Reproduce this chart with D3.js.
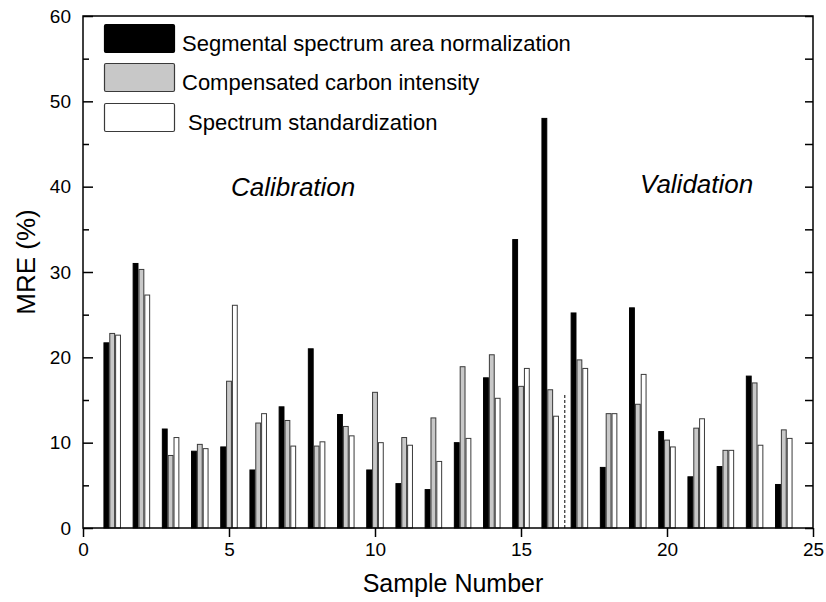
<!DOCTYPE html>
<html>
<head>
<meta charset="utf-8">
<script src="https://cdn.jsdelivr.net/npm/d3@7"></script>
<style>
  html, body { margin: 0; padding: 0; background: #fff; }
  svg { display: block; font-family: "Liberation Sans", Arial, sans-serif; }
</style>
</head>
<body>
<svg id="chart" width="826" height="602"></svg>
<script>
// ---- data ----
const samples = d3.range(1, 25);
const seriesNames = [
  "Segmental spectrum area normalization",
  "Compensated carbon intensity",
  "Spectrum standardization"
];
const segmentalArea = [21.7, 31.0, 11.6, 9.0, 9.5, 6.8, 14.2, 21.0, 13.3, 6.8, 5.2, 4.5,
                       10.0, 17.6, 33.8, 48.0, 25.2, 7.1, 25.8, 11.3, 6.0, 7.2, 17.8, 5.1];
const compensatedCarbon = [22.8, 30.3, 8.5, 9.8, 17.2, 12.3, 12.6, 9.6, 11.9, 15.9, 10.6, 12.9,
                           18.9, 20.3, 16.6, 16.2, 19.7, 13.4, 14.5, 10.3, 11.7, 9.1, 17.0, 11.5];
const spectrumStd = [22.6, 27.3, 10.6, 9.3, 26.1, 13.4, 9.6, 10.1, 10.8, 10.0, 9.7, 7.8,
                     10.5, 15.2, 18.7, 13.1, 18.7, 13.4, 18.0, 9.5, 12.8, 9.1, 9.7, 10.5];
const xTicks = [0, 5, 10, 15, 20, 25];
const yTicks = [0, 10, 20, 30, 40, 50, 60];
const yMinorTicks = [5, 15, 25, 35, 45, 55];
const dividerX = 16.5;
const dividerTop = 15.7;

// ---- layout ----
const svg = d3.select("#chart");
const L = 83, R = 813, T = 16, B = 528;
const x = d3.scaleLinear().domain([0, 25]).range([L, R]);
const y = d3.scaleLinear().domain([0, 60]).range([B, T]);
const barW = 0.2;
const fills = ["#000000", "#c8c8c8", "#ffffff"];
const strokes = ["#000000", "#3a3a3a", "#3a3a3a"];
const seriesData = [segmentalArea, compensatedCarbon, spectrumStd];
const offsets = [-0.2, 0, 0.2];

// bars
seriesData.forEach((vals, s) => {
  svg.append("g").selectAll("rect")
    .data(samples.map((n, i) => ({n, v: vals[i]})))
    .join("rect")
    .attr("x", d => x(d.n + offsets[s] - barW / 2) + 0.5)
    .attr("width", d => x(barW) - x(0) - 1)
    .attr("y", d => y(d.v))
    .attr("height", d => y(0) - y(d.v))
    .attr("fill", fills[s])
    .attr("stroke", strokes[s])
    .attr("stroke-width", 1);
});

// divider dashed line
svg.append("line")
  .attr("x1", x(dividerX)).attr("x2", x(dividerX))
  .attr("y1", y(0)).attr("y2", y(dividerTop))
  .attr("stroke", "#000").attr("stroke-width", 1)
  .attr("stroke-dasharray", "3,2");

// frame
svg.append("rect")
  .attr("x", L).attr("y", T).attr("width", R - L).attr("height", B - T)
  .attr("fill", "none").attr("stroke", "#000").attr("stroke-width", 1.5);

// bottom axis (outward ticks)
const xAxis = d3.axisBottom(x).tickValues(xTicks).tickSize(9).tickPadding(6).tickFormat(d3.format("d"));
const gx = svg.append("g").attr("transform", `translate(0,${B})`).call(xAxis);
gx.select(".domain").remove();
gx.selectAll(".tick line").attr("stroke-width", 1.5);
gx.selectAll("text").attr("font-size", 19).attr("fill", "#000")
  .attr("font-family", "Liberation Sans, Arial, sans-serif");

// left axis (inward ticks)
const yAxis = d3.axisLeft(y).tickValues(yTicks).tickSize(-10).tickPadding(12).tickFormat(d3.format("d"));
const gy = svg.append("g").attr("transform", `translate(${L},0)`).call(yAxis);
gy.select(".domain").remove();
gy.selectAll(".tick line").attr("stroke-width", 1.5);
gy.selectAll("text").attr("font-size", 19).attr("fill", "#000")
  .attr("font-family", "Liberation Sans, Arial, sans-serif");
const gyMinor = svg.append("g").attr("transform", `translate(${L},0)`)
  .call(d3.axisLeft(y).tickValues(yMinorTicks).tickSize(-6).tickFormat(""));
gyMinor.select(".domain").remove();
gyMinor.selectAll(".tick line").attr("stroke-width", 1.5);

// right axis (inward ticks, no labels)
const gr = svg.append("g").attr("transform", `translate(${R},0)`)
  .call(d3.axisRight(y).tickValues(yTicks.concat(yMinorTicks)).tickSize(-8).tickFormat(""));
gr.select(".domain").remove();
gr.selectAll(".tick line").attr("stroke-width", 1.5);

// axis titles
svg.append("text")
  .attr("x", (L + R) / 2 + 5).attr("y", 592)
  .attr("text-anchor", "middle").attr("font-size", 25).text("Sample Number");
svg.append("text")
  .attr("transform", `translate(35,${262}) rotate(-90)`)
  .attr("text-anchor", "middle").attr("font-size", 26).text("MRE (%)");

// region labels
svg.append("text").attr("x", 231).attr("y", 196)
  .attr("font-size", 26).attr("font-style", "italic").text("Calibration");
svg.append("text").attr("x", 640).attr("y", 193)
  .attr("font-size", 26).attr("font-style", "italic").text("Validation");

// legend
const legendY = [24, 63, 103];
const legendTextX = [182, 182, 188];
const leg = svg.append("g");
seriesNames.forEach((name, i) => {
  leg.append("rect")
    .attr("x", 104.5).attr("y", legendY[i] + 0.5)
    .attr("width", 70).attr("height", 28)
    .attr("rx", 1.5)
    .attr("fill", fills[i]).attr("stroke", strokes[i]).attr("stroke-width", 1.2);
  leg.append("text")
    .attr("x", legendTextX[i]).attr("y", legendY[i] + 27)
    .attr("font-size", 22).text(name);
});
</script>
</body>
</html>
